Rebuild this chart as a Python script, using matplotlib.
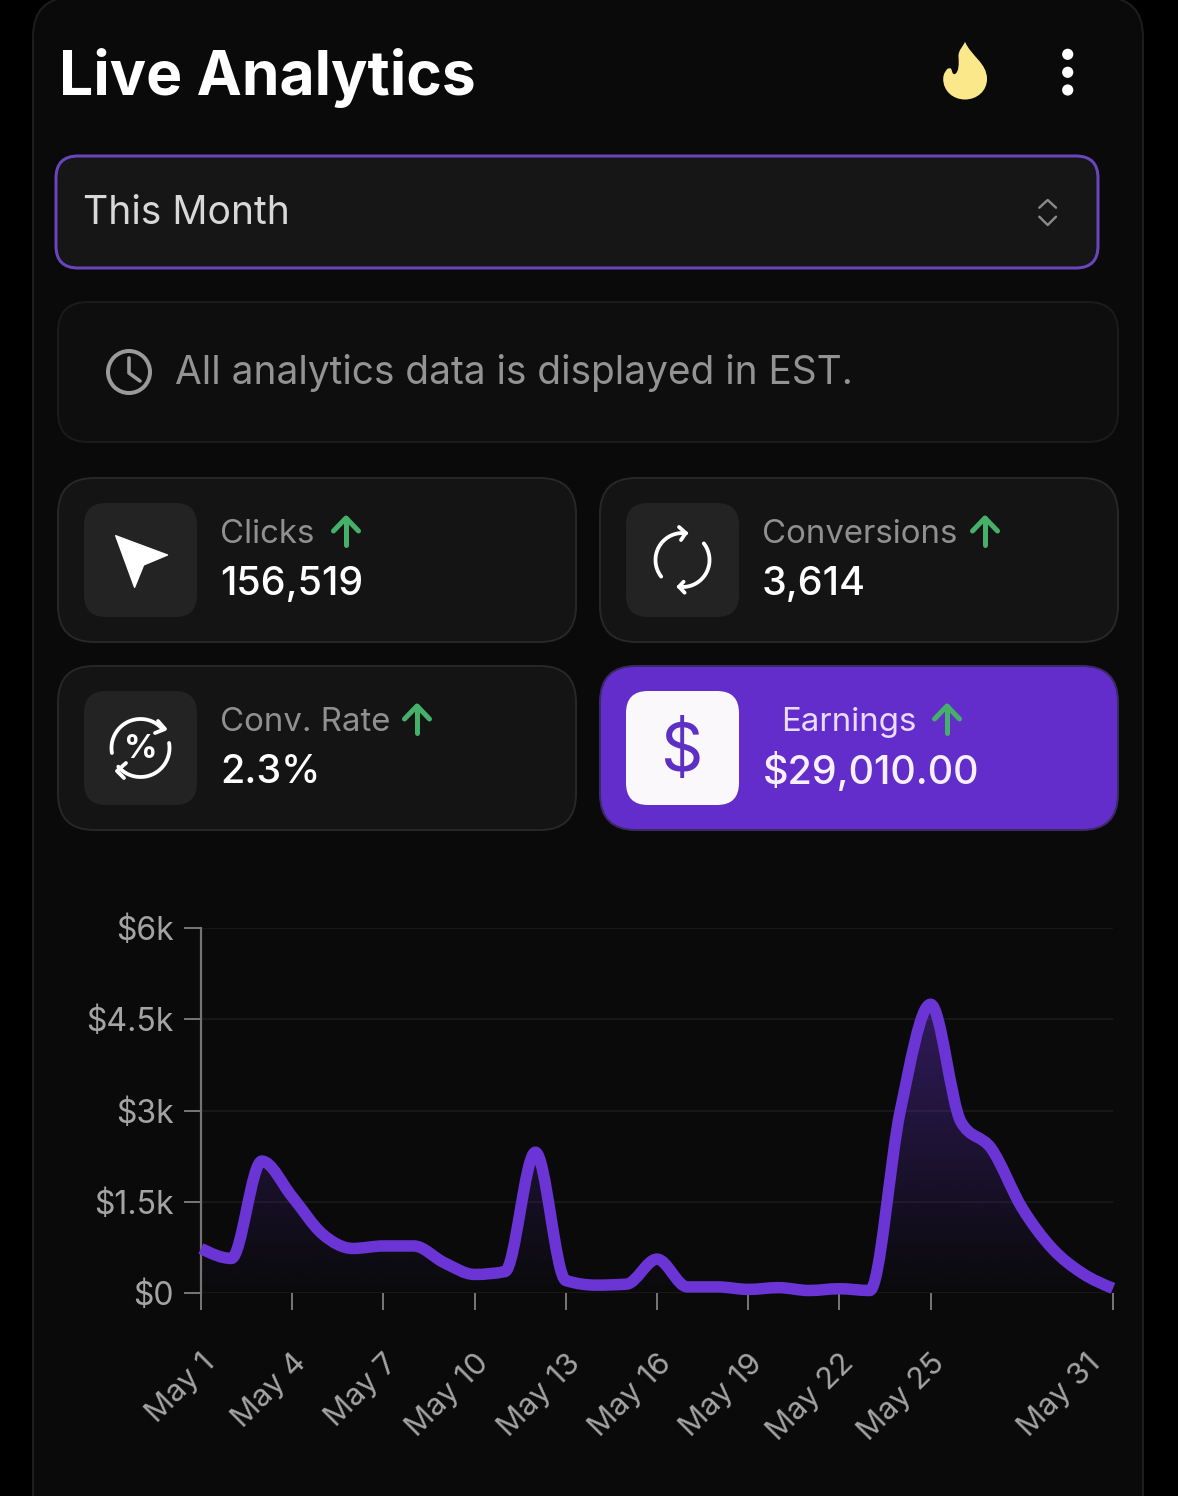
#!/usr/bin/env python3
"""Live Analytics phone screenshot: stat cards and earnings line chart."""

import matplotlib
matplotlib.use("Agg")
import matplotlib.pyplot as plt
import numpy as np
from matplotlib.patches import Circle, FancyBboxPatch, PathPatch, Polygon
from matplotlib.path import Path
from matplotlib.transforms import ScaledTranslation

plt.rcParams["font.family"] = ["Inter", "DejaVu Sans"]

# earnings per day of May
day_index = list(range(31))
earnings = [732, 568, 2168, 1582, 967, 732, 773, 773, 498, 305, 352, 2314, 205, 129, 146, 557,
            100, 100, 59, 88, 41, 70, 41, 2988, 4746, 2812, 2373, 1406, 732, 322, 76]
x_ticks = [0, 3, 6, 9, 12, 15, 18, 21, 24, 30]
x_labels = ["May 1", "May 4", "May 7", "May 10", "May 13", "May 16", "May 19", "May 22", "May 25", "May 31"]
y_ticks = [0, 1500, 3000, 4500, 6000]
y_labels = ["$0", "$1.5k", "$3k", "$4.5k", "$6k"]

card_labels = ["Clicks", "Conversions", "Conv. Rate", "Earnings"]
card_values = ["156,519", "3,614", "2.3%", "$29,010.00"]

W, H = 1178, 1496
PURPLE = "#6b35d6"
GREEN = "#45b06a"
LW = 0.72  # one pixel in points at dpi 100


def fs(px):
    return px * 0.72


def box(ax, x0, y0, x1, y1, r, fc, ec, lw=2.0, z=1):
    ax.add_patch(FancyBboxPatch((x0 + r, y0 + r), x1 - x0 - 2 * r, y1 - y0 - 2 * r,
                                boxstyle=f"round,pad={r},rounding_size={r}",
                                fc=fc, ec=ec, lw=lw * LW, zorder=z))


def stroke(ax, xs, ys, color="white", lw=3.8, z=4):
    ax.plot(xs, ys, color=color, lw=lw * LW, solid_capstyle="round", solid_joinstyle="round", zorder=z)


def arc(ax, cx, cy, r, a0, a1, color="white", lw=3.8):
    t = np.radians(np.linspace(a0, a1, 60))
    stroke(ax, cx + r * np.cos(t), cy - r * np.sin(t), color, lw)


def up_arrow(ax, x, y0, y1):
    stroke(ax, [x, x], [y0, y1], GREEN, 5.0)
    stroke(ax, [x - 12.5, x, x + 12.5], [y0 + 13, y0, y0 + 13], GREEN, 5.0)


def monotone_path(x, y):
    # same curve as a monotone-x cubic: flat at local peaks, no overshoot
    x = np.asarray(x, float)
    y = np.asarray(y, float)
    h = np.diff(x)
    s = np.diff(y) / h
    t = np.zeros(len(x))
    for i in range(1, len(x) - 1):
        p = (s[i - 1] * h[i] + s[i] * h[i - 1]) / (h[i - 1] + h[i])
        t[i] = (np.sign(s[i - 1]) + np.sign(s[i])) * min(abs(s[i - 1]), abs(s[i]), 0.5 * abs(p))
    t[0] = (3 * s[0] - t[1]) / 2
    t[-1] = (3 * s[-1] - t[-2]) / 2
    verts = [(x[0], y[0])]
    for i in range(len(h)):
        d = h[i] / 3
        verts += [(x[i] + d, y[i] + d * t[i]), (x[i + 1] - d, y[i + 1] - d * t[i + 1]), (x[i + 1], y[i + 1])]
    return verts


fig = plt.figure(figsize=(W / 100, H / 100), dpi=100, facecolor="#000000")
ui = fig.add_axes([0, 0, 1, 1])
ui.set_xlim(0, W)
ui.set_ylim(H, 0)
ui.axis("off")

# page card, runs off the top and bottom of the screenshot
box(ui, 33, -3, 1143, 1560, 40, "#0a0a0b", "#1d1d1f", 2.0, z=0)

# header
ui.text(59, 71, "Live Analytics", color="white", fontsize=fs(60.6), fontweight="bold", va="center_baseline")
flame = [
    (965, 41.7),
    (963, 47), (958, 50), (958.5, 57),
    (959, 63), (959, 72), (955, 74),
    (952, 75), (952, 70), (951, 68.5),
    (949, 68), (947, 68.5), (946.5, 70),
    (944, 73), (943.2, 76), (943.2, 79),
    (943.2, 91), (953, 99.5), (965, 99.5),
    (977, 99.5), (987, 91), (987, 79),
    (987, 63), (971, 56), (965, 41.7),
]
flame_codes = [Path.MOVETO] + [Path.CURVE4] * (len(flame) - 1)
ui.add_patch(PathPatch(Path(flame, flame_codes), fc="#fbe88a", ec="none", zorder=3))
for cy in (54.3, 72.3, 90):
    ui.add_patch(Circle((1067.7, cy), 5.6, fc="white", ec="none", zorder=3))

# month dropdown
box(ui, 56, 156, 1098, 268, 22, "#161616", "#6a45bd", 3.0)
ui.text(83, 209, "This Month", color="#d8d8d8", fontsize=fs(39), va="center_baseline")
stroke(ui, [1039.3, 1047.7, 1056], [207.7, 200, 207.7], "#8a8a8a", 2.4)
stroke(ui, [1039.3, 1047.7, 1056], [216.7, 225, 216.7], "#8a8a8a", 2.4)

# timezone note
box(ui, 58, 302, 1118, 442, 30, "#0e0e0f", "#1b1b1c", 2.0)
ui.add_patch(Circle((129, 372), 21, fc="none", ec="#9a9a9a", lw=4 * LW, zorder=3))
stroke(ui, [129, 129, 140], [358, 373, 381], "#9a9a9a", 3.6)
ui.text(175, 369, "All analytics data is displayed in EST.", color="#939393", fontsize=fs(38.8), va="center_baseline")

# stat cards
card_x = [58, 600, 58, 600]
card_y = [478, 478, 666, 666]
label_x = [220, 762, 220, 781]
arrow_x = [346, 985, 417, 947]
for i in range(4):
    x0, y0 = card_x[i], card_y[i]
    hot = card_labels[i] == "Earnings"
    box(ui, x0, y0, x0 + 518, y0 + 164, 36, "#632dcc" if hot else "#141414", "#3a2a63" if hot else "#272727", 2.0)
    box(ui, x0 + 26, y0 + 25, x0 + 139, y0 + 139, 22, "#faf8fb" if hot else "#232323", "none", 0, z=2)
    ui.text(label_x[i], y0 + 53, card_labels[i], color="#e9dcff" if hot else "#909090",
            fontsize=fs(33), va="center_baseline", zorder=4)
    ui.text(x0 + 162 if not hot else 763, y0 + 102, card_values[i], color="#f6f0fd" if hot else "white",
            fontsize=fs(39.5), fontweight="medium", va="center_baseline", zorder=4)
    up_arrow(ui, arrow_x[i], y0 + 40, y0 + 67)

# cursor icon
ui.add_patch(Polygon([(115.7, 535.7), (167.5, 555), (143.6, 565), (134.6, 587.3)], closed=True,
                     fc="white", ec="white", lw=1, joinstyle="round", zorder=4))

# sync icon
arc(ui, 682.5, 560, 27, 82, 218)
arc(ui, 682.5, 560, 27, 38, -98)
stroke(ui, [679, 685.7, 681], [527, 533, 540])
stroke(ui, [683.6, 679, 684.6], [581.7, 586.7, 592.7])

# conversion rate icon
arc(ui, 140.5, 748, 29, 190, 40)
arc(ui, 140.5, 748, 29, 10, -140)
stroke(ui, [158, 165, 155], [721, 729, 733])
stroke(ui, [126, 117, 124], [763, 771, 778])
ui.text(140.5, 749, "%", color="white", fontsize=fs(33), fontweight="bold", ha="center", va="center", zorder=4)

# dollar icon
ui.text(682, 753, "$", color="#5d2fc4", fontsize=fs(66), ha="center", va="center", zorder=4)

# chart, axes box lines up with the $0/$6k grid lines and May 1/May 31 ticks
ax = fig.add_axes([201 / W, 1 - 1293 / H, (1113 - 201) / W, (1293 - 928) / H], facecolor="none")
ax.set_zorder(5)

verts = monotone_path(day_index, earnings)
line_path = Path(verts, [Path.MOVETO] + [Path.CURVE4] * (len(verts) - 1))
area_verts = verts + [(day_index[-1], 0), (day_index[0], 0), (day_index[0], 0)]
area_codes = [Path.MOVETO] + [Path.CURVE4] * (len(verts) - 1) + [Path.LINETO, Path.LINETO, Path.CLOSEPOLY]
area_path = Path(area_verts, area_codes)

peak = max(earnings)
grad = np.zeros((256, 1, 4))
grad[..., :3] = matplotlib.colors.to_rgb(PURPLE)
grad[:, 0, 3] = np.linspace(0.40, 0.0, 256)
im = ax.imshow(grad, extent=[day_index[0], day_index[-1], 0, peak], aspect="auto", zorder=1)
im.set_clip_path(PathPatch(area_path, transform=ax.transData))

ax.add_patch(PathPatch(line_path, fc="none", ec=PURPLE, lw=11.5 * LW, capstyle="butt", joinstyle="round",
                       zorder=3, clip_on=False))

ax.set_xlim(day_index[0], day_index[-1])
ax.set_ylim(0, 6000)
ax.set_yticks(y_ticks, y_labels)
ax.set_xticks(x_ticks, x_labels)
ax.grid(True, axis="y", color="#1b1b1b", lw=1.6 * LW, zorder=0)
ax.set_axisbelow(True)
for side in ("top", "right", "bottom"):
    ax.spines[side].set_visible(False)
ax.spines["left"].set_color("#747474")
ax.spines["left"].set_linewidth(2.2 * LW)
ax.tick_params(axis="both", length=17 * LW, width=2.0 * LW, color="#747474", labelcolor="#a4a4a4")
ax.tick_params(axis="y", pad=10 * LW, labelsize=fs(32))
ax.tick_params(axis="x", pad=39 * LW, labelsize=fs(31))
for lab, name in zip(ax.get_xticklabels(), x_labels):
    # the last label is pulled back inside the plot edge
    dx = -27 if name == "May 31" else 0
    lab.set_rotation(45)
    lab.set_ha("right")
    lab.set_rotation_mode("anchor")
    lab.set_transform(lab.get_transform() + ScaledTranslation(dx / 100, 0, fig.dpi_scale_trans))

fig.savefig("out.png", dpi=100, facecolor=fig.get_facecolor())
